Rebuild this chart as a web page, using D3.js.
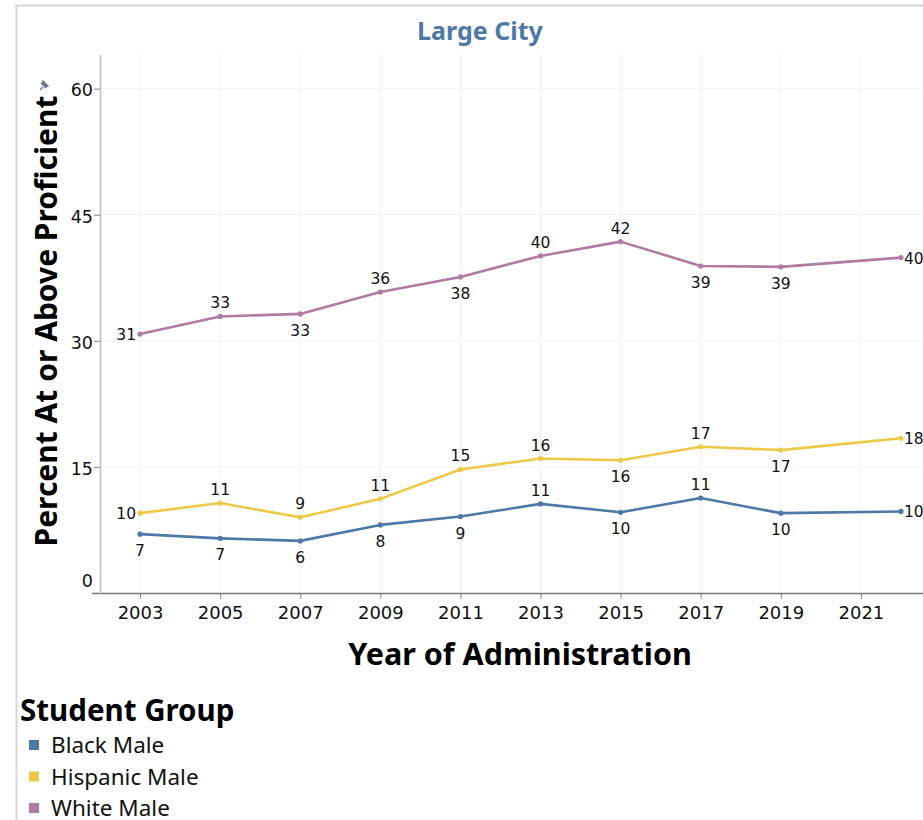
<!DOCTYPE html>
<html><head><meta charset="utf-8">
<script src="https://cdn.jsdelivr.net/npm/d3@7"></script>
<style>html,body{margin:0;padding:0;background:#fff;overflow:hidden}</style>
</head><body>
<svg id="chart" width="923" height="820"></svg>
<script>
const years = [2003, 2005, 2007, 2009, 2011, 2013, 2015, 2017, 2019, 2022];
const blackMale = [7.0, 6.5, 6.2, 8.1, 9.1, 10.6, 9.6, 11.3, 9.5, 9.7];
const hispanicMale = [9.5, 10.7, 9.0, 11.2, 14.7, 16.0, 15.8, 17.4, 17.0, 18.4];
const whiteMale = [30.8, 32.9, 33.2, 35.8, 37.6, 40.1, 41.8, 38.9, 38.8, 39.9];
const blackLabels = ["7","7","6","8","9","11","10","11","10","10"];
const hispanicLabels = ["10","11","9","11","15","16","16","17","17","18"];
const whiteLabels = ["31","33","33","36","38","40","42","39","39","40"];
const blackPlace = ["b","b","b","b","b","a","b","a","b","r"];
const hispanicPlace = ["l","a","a","a","a","a","b","a","b","r"];
const whitePlace = ["l","a","b","a","b","a","a","b","b","r"];
const xTicks = [2003, 2005, 2007, 2009, 2011, 2013, 2015, 2017, 2019, 2021];
const yTicks = [0, 15, 30, 45, 60];
const groups = ["Black Male", "Hispanic Male", "White Male"];
const colors = ["#4e79a7", "#edc948", "#b07aa1"];

const series = [
  {name: groups[0], values: blackMale, labels: blackLabels, place: blackPlace, color: colors[0]},
  {name: groups[1], values: hispanicMale, labels: hispanicLabels, place: hispanicPlace, color: colors[1]},
  {name: groups[2], values: whiteMale, labels: whiteLabels, place: whitePlace, color: colors[2]}
];

const svg = d3.select("#chart");
const x = d3.scaleLinear().domain([2002, 2023]).range([100, 941]);
const y = d3.scaleLinear().domain([0, 64]).range([593, 55]);
const FONT = "'DejaVu Sans', sans-serif";
const BOLD = "'Noto Sans', sans-serif";

// frame border
svg.append("line").attr("x1", 15).attr("x2", 923).attr("y1", 5.5).attr("y2", 5.5).attr("stroke", "#d6d6d6").attr("stroke-width", 2);
svg.append("line").attr("x1", 16.5).attr("x2", 16.5).attr("y1", 5).attr("y2", 820).attr("stroke", "#d6d6d6").attr("stroke-width", 2);

// title
svg.append("text").attr("x", 480).attr("y", 40).attr("text-anchor", "middle")
  .attr("font-family", BOLD).attr("font-weight", "bold").attr("font-size", 25)
  .attr("fill", "#4e79a7").text("Large City");

// gridlines
const g = svg.append("g");
g.selectAll(".vg").data(xTicks).join("line")
  .attr("x1", d => x(d)).attr("x2", d => x(d)).attr("y1", 55).attr("y2", 593)
  .attr("stroke", "#f0f0f0").attr("stroke-width", 1);
g.selectAll(".hg").data(yTicks.filter(d => d > 0)).join("line")
  .attr("x1", 100).attr("x2", 923).attr("y1", d => y(d)).attr("y2", d => y(d))
  .attr("stroke", "#f0f0f0").attr("stroke-width", 1);

// axes
const xAxis = d3.axisBottom(x).tickValues(xTicks).tickFormat(d3.format("d")).tickSize(6).tickSizeOuter(0);
const xg = svg.append("g").attr("transform", "translate(0,593)").call(xAxis);
xg.select(".domain").remove();
xg.selectAll(".tick line").attr("stroke", "#888");
xg.selectAll(".tick text").attr("font-family", FONT).attr("font-size", 18).attr("fill", "#111").attr("y", 26).attr("dy", 0);
svg.append("line").attr("x1", 92).attr("x2", 923).attr("y1", 593.5).attr("y2", 593.5).attr("stroke", "#777").attr("stroke-width", 1.3);

const yAxis = d3.axisLeft(y).tickValues(yTicks).tickSize(6).tickSizeOuter(0);
const yg = svg.append("g").attr("transform", "translate(100,0)").call(yAxis);
yg.select(".domain").remove();
yg.selectAll(".tick line").attr("stroke", "#888");
yg.selectAll(".tick text").attr("font-family", FONT).attr("font-size", 17.5).attr("fill", "#111").attr("x", -7)
  .attr("dy", d => d === 0 ? "-0.35em" : "0.42em");
yg.selectAll(".tick").filter(d => d === 0).select("line").remove();
svg.append("line").attr("x1", 100.5).attr("x2", 100.5).attr("y1", 55).attr("y2", 594).attr("stroke", "#bbb").attr("stroke-width", 1.5);

// axis titles
svg.append("text").attr("transform", "translate(57,321) rotate(-90)").attr("text-anchor", "middle")
  .attr("font-family", BOLD).attr("font-weight", "bold").attr("font-size", 30).attr("fill", "#000")
  .text("Percent At or Above Proficient");
svg.append("text").attr("x", 520).attr("y", 665).attr("text-anchor", "middle")
  .attr("font-family", BOLD).attr("font-weight", "bold").attr("font-size", 30.5).attr("fill", "#000")
  .text("Year of Administration");

// pin icon
svg.append("path").attr("d", "M40,90 L43,87 M41,83 L46,88 M43,81 L48,86 L46,87 L42,83 Z")
  .attr("stroke", "#6a7a90").attr("stroke-width", 1.4).attr("fill", "#6a7a90");

// lines
const line = d3.line().x((d, i) => x(years[i])).y(d => y(d));
const sg = svg.append("g");
series.forEach(s => {
  sg.append("path").datum(s.values).attr("d", line).attr("fill", "none")
    .attr("stroke", s.color).attr("stroke-width", 2.6).attr("stroke-linejoin", "round");
  sg.selectAll(null).data(s.values).join("circle")
    .attr("cx", (d, i) => x(years[i])).attr("cy", d => y(d)).attr("r", 2.6).attr("fill", s.color);
  sg.selectAll(null).data(s.values).join("text")
    .attr("font-family", FONT).attr("font-size", 15.5).attr("fill", "#111")
    .attr("x", (d, i) => {
      const p = s.place[i], px = x(years[i]);
      return p === "l" ? px - 4 : p === "r" ? px + 3 : px;
    })
    .attr("y", (d, i) => {
      const p = s.place[i], py = y(d);
      return p === "a" ? py - 8 : p === "b" ? py + 22 : py + 6;
    })
    .attr("text-anchor", (d, i) => s.place[i] === "l" ? "end" : s.place[i] === "r" ? "start" : "middle")
    .text((d, i) => s.labels[i]);
});

// legend
svg.append("text").attr("x", 20).attr("y", 721).attr("font-family", BOLD).attr("font-weight", "bold")
  .attr("font-size", 29.5).attr("fill", "#000").text("Student Group");
const lg = svg.append("g");
groups.forEach((name, i) => {
  lg.append("rect").attr("x", 29).attr("y", 740 + i * 31.5).attr("width", 10).attr("height", 10).attr("fill", colors[i]);
  lg.append("text").attr("x", 51).attr("y", 753 + i * 31.5).attr("font-family", BOLD).attr("font-size", 22.5)
    .attr("fill", "#111").text(name);
});
</script>
</body></html>
